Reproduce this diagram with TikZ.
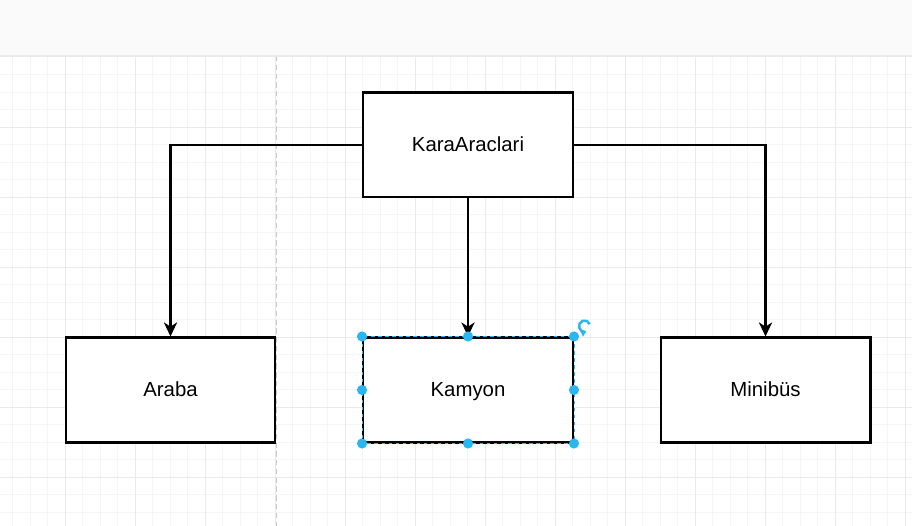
\documentclass[tikz,border=0pt]{standalone}
\usepackage{fontspec}
\setmainfont{Liberation Sans}
\usetikzlibrary{arrows.meta}

\definecolor{stripgray}{HTML}{FAFAFA}
\definecolor{minorgrid}{HTML}{F5F5F5}
\definecolor{majorgrid}{HTML}{EAEAEA}
\definecolor{pageline}{HTML}{C8C8C8}
\definecolor{selblue}{HTML}{29B6F2}

\tikzset{
    classbox/.style={draw=black, line width=1.15pt, fill=white, minimum width=4.2cm,
        minimum height=2.1cm, inner sep=0pt, text height=8.4pt, text depth=1.4pt,
        font=\fontsize{11.6}{14}\selectfont},
    link/.style={line width=1.2pt, -{Stealth[length=8pt, width=7.5pt, inset=2.4pt]}},
    handle/.style={circle, fill=selblue, inner sep=0pt, minimum size=5.8pt}
}

\begin{document}
\begin{tikzpicture}[x=0.02cm, y=-0.02cm]

        \useasboundingbox (0,0) rectangle (912,526);
        \fill[white] (0,0) rectangle (912,526);

        % grid:
        \foreach \gx in {12.5,30,...,912} \draw[minorgrid, line width=0.4pt] (\gx,56) -- (\gx,526);
        \foreach \gy in {74.5,92,...,526} \draw[minorgrid, line width=0.4pt] (0,\gy) -- (912,\gy);
        \foreach \gx in {65,135,...,912} \draw[majorgrid, line width=0.45pt] (\gx,56) -- (\gx,526);
        \foreach \gy in {127,197,...,526} \draw[majorgrid, line width=0.45pt] (0,\gy) -- (912,\gy);
        \draw[pageline, line width=0.6pt, dash pattern=on 3pt off 2pt] (276.5,56) -- (276.5,526);

        % toolbar strip:
        \fill[stripgray] (0,0) rectangle (912,56);
        \draw[majorgrid, line width=0.6pt] (0,56) -- (912,56);

        % classes:
        \node(kara) [classbox] at (468,145) {KaraAraclari};
        \node(araba) [classbox] at (170.5,390) {Araba};
        \node(kamyon) [classbox] at (468,390) {Kamyon};
        \node(minibus) [classbox] at (765.5,390) {Minibüs};

        % links:
        \draw[link] (kara.west) -| (araba.north);
        \draw[link] (kara.south) -- (kamyon.north);
        \draw[link] (kara.east) -| (minibus.north);

        % selection of Kamyon:
        \draw[selblue, line width=0.5pt, dash pattern=on 2pt off 2pt] (kamyon.north west) rectangle (kamyon.south east);
        \foreach \anc in {north west,north,north east,west,east,south west,south,south east}
            \node[handle] at (kamyon.\anc) {};
        \coordinate(rot) at (584.5,326);
        \draw[selblue, line width=1.4pt, -{Triangle[length=3pt, width=4.4pt]}] (rot) ++(-20:5.5) arc (-20:-290:5.5);

    \end{tikzpicture}
\end{document}
